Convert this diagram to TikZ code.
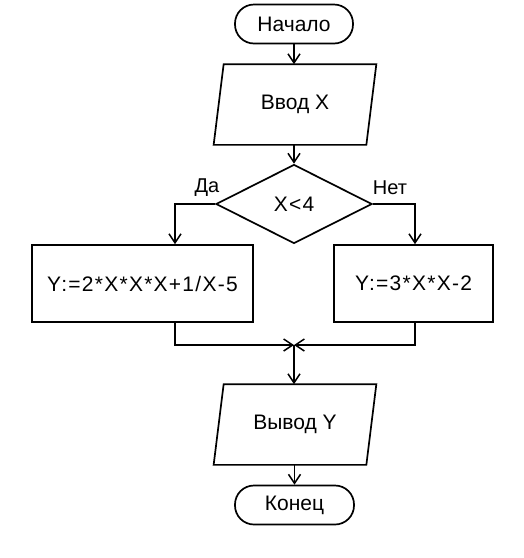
\documentclass[tikz,border=0pt]{standalone}
\usepackage{fontspec}
\setmainfont{Liberation Sans}
\newfontfamily\widefont[LetterSpace=6]{Liberation Sans}
\usetikzlibrary{shapes.geometric,arrows.meta,calc}
\begin{document}
\begin{tikzpicture}[x=1pt,y=-1pt,line width=1.7pt,
  every node/.style={font=\fontsize{21}{25}\selectfont},
  term/.style={draw,rectangle,rounded corners=19pt,minimum height=39pt,inner sep=0pt},
  io/.style={rectangle,minimum width=151pt,minimum height=79pt,inner sep=0pt},
  proc/.style={draw,rectangle,minimum height=77pt,inner sep=0pt,font=\widefont\fontsize{21}{25}\selectfont},
  cond/.style={draw,diamond,minimum width=156pt,minimum height=79pt,inner sep=0pt,font=\widefont\fontsize{21}{25}\selectfont},
  arr/.style={-{Straight Barb[length=9pt,width=12pt,line width=1.5pt]}},
  lbl/.style={font=\fontsize{20}{24}\selectfont}]
\useasboundingbox (0,0) rectangle (524,558);
\fill[white] (0,0) rectangle (524,558);
\node[term,minimum width=118pt] (start) at (294,24) {Начало};
\node[io] (in) at (295,104.5) {Ввод X};
\draw ($(in.north west)+(5,0)$) -- ($(in.north east)+(5,0)$) -- ($(in.south east)+(-5,0)$) -- ($(in.south west)+(-5,0)$) -- cycle;
\node[cond] (dec) at (294,204) {X<4};
\node[proc,minimum width=221pt] (lbox) at (142.5,283.5) {Y:=2*X*X*X+1/X-5};
\node[proc,minimum width=159pt] (rbox) at (413.5,283.5) {Y:=3*X*X-2};
\node[io] (out) at (295,424.5) {Вывод Y};
\draw ($(out.north west)+(5,0)$) -- ($(out.north east)+(5,0)$) -- ($(out.south east)+(-5,0)$) -- ($(out.south west)+(-5,0)$) -- cycle;
\node[term,minimum width=119pt] (end) at (294.5,505) {Конец};
\node[lbl] (da) at (207,188) {Да};
\node[lbl] (net) at (390,188) {Нет};
\coordinate (j) at (294,345);
\draw[arr] (start.south) -- (start.south |- in.north);
\draw[arr] (in.south -| dec.north) -- (dec.north);
\draw[arr] (dec.west) -| ([xshift=32.5pt]lbox.north);
\draw[arr] (dec.east) -| ([xshift=1.5pt]rbox.north);
\draw[arr] ([xshift=32.5pt]lbox.south) |- (j);
\draw[arr] ([xshift=1.5pt]rbox.south) |- (j);
\draw[arr] (j) -- (j |- out.north);
\draw[arr] (out.south -| end.north) -- (end.north);
\end{tikzpicture}
\end{document}
